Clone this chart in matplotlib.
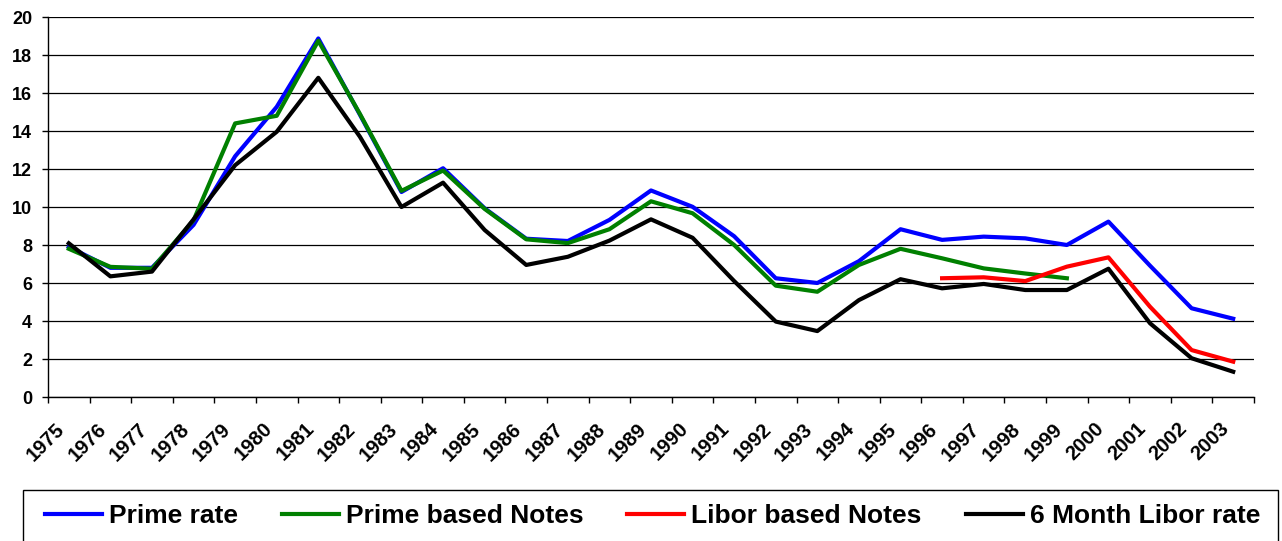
import numpy as np
import matplotlib
matplotlib.use("Agg")
import matplotlib.pyplot as plt
import matplotlib.transforms as mtransforms
from matplotlib.patches import Rectangle

plt.rcParams['font.family'] = ['Liberation Sans', 'DejaVu Sans']
plt.rcParams['font.weight'] = 'bold'

years = [str(y) for y in range(1975, 2004)]

prime_rate = [7.9, 6.8, 6.8, 9.06, 12.67, 15.27, 18.87, 14.86, 10.79, 12.04,
              9.93, 8.33, 8.21, 9.32, 10.87, 10.01, 8.46, 6.25, 6.00, 7.15,
              8.83, 8.27, 8.44, 8.35, 8.00, 9.23, 6.91, 4.67, 4.12]
prime_notes = [7.8, 6.85, 6.75, 9.3, 14.4, 14.8, 18.75, 14.9, 10.85, 11.92,
               9.9, 8.3, 8.1, 8.83, 10.3, 9.67, 8.0, 5.86, 5.54, 6.95,
               7.8, 7.3, 6.77, 6.5, 6.25]
libor_notes = [6.25, 6.3, 6.1, 6.86, 7.35, 4.75, 2.47, 1.86]
libor_6m = [8.09, 6.35, 6.6, 9.35, 12.2, 13.96, 16.8, 13.7, 10.0, 11.28,
            8.79, 6.95, 7.38, 8.23, 9.35, 8.38, 6.1, 3.97, 3.47, 5.1,
            6.2, 5.72, 5.95, 5.63, 5.63, 6.75, 3.88, 2.04, 1.33]

W, H = 1282, 541
fig = plt.figure(figsize=(W / 100, H / 100), dpi=100)
ax = fig.add_axes([48 / W, 1 - 397 / H, (1254 - 48) / W, (397 - 17) / H])

x = np.arange(len(years))
lw = 3
l1, = ax.plot(x, prime_rate, color='#0000FF', lw=lw, label='Prime rate')
l2, = ax.plot(x[:len(prime_notes)], prime_notes, color='#008000', lw=lw,
              label='Prime based Notes')
l3, = ax.plot(x[-len(libor_notes):], libor_notes, color='#FF0000', lw=lw,
              label='Libor based Notes')
l4, = ax.plot(x, libor_6m, color='black', lw=lw, label='6 Month Libor rate')

ax.set_xlim(-0.5, len(years) - 0.5)
ax.set_ylim(0, 20)
ax.set_yticks(np.arange(0, 21, 2))
ax.yaxis.grid(True, color='black', lw=0.9)
ax.set_axisbelow(True)
for s in ['top', 'right']:
    ax.spines[s].set_visible(False)
ax.spines['left'].set_linewidth(1)
ax.spines['bottom'].set_linewidth(1)

ax.set_xticks(x)
ax.set_xticklabels(years, rotation=45, ha='right', va='top',
                   rotation_mode='anchor', fontsize=14.5, fontweight='bold')
ax.set_xticks(np.arange(-0.5, len(years), 1), minor=True)
ax.tick_params(axis='x', which='major', length=0, pad=16)
ax.tick_params(axis='x', which='minor', length=4.5, width=1)
ax.tick_params(axis='y', length=4.5, width=1, pad=7, labelsize=13)
for t in ax.get_yticklabels():
    t.set_fontweight('bold')
shift = mtransforms.ScaledTranslation(-14 / 100, 0, fig.dpi_scale_trans)
for t in ax.get_xticklabels():
    t.set_transform(t.get_transform() + shift)

fig.text(651 / W, 1 + 8 / H, '(annual averages, percent)', ha='center',
         va='baseline', fontsize=18, fontweight='bold')

fig.legend(handles=[l1, l2, l3, l4], loc='center left',
           bbox_to_anchor=(45 / W, 1 - 516 / H), ncol=4, frameon=False,
           prop={'weight': 'bold', 'size': 19},
           handlelength=2.15, handletextpad=0.27, columnspacing=1.67,
           borderpad=0, borderaxespad=0)
fig.patches.append(Rectangle((23 / W, -0.05), (1278 - 23) / W,
                             1 - 490 / H + 0.05, transform=fig.transFigure,
                             fill=False, ec='black', lw=1))

fig.savefig('out.png', dpi=100)
